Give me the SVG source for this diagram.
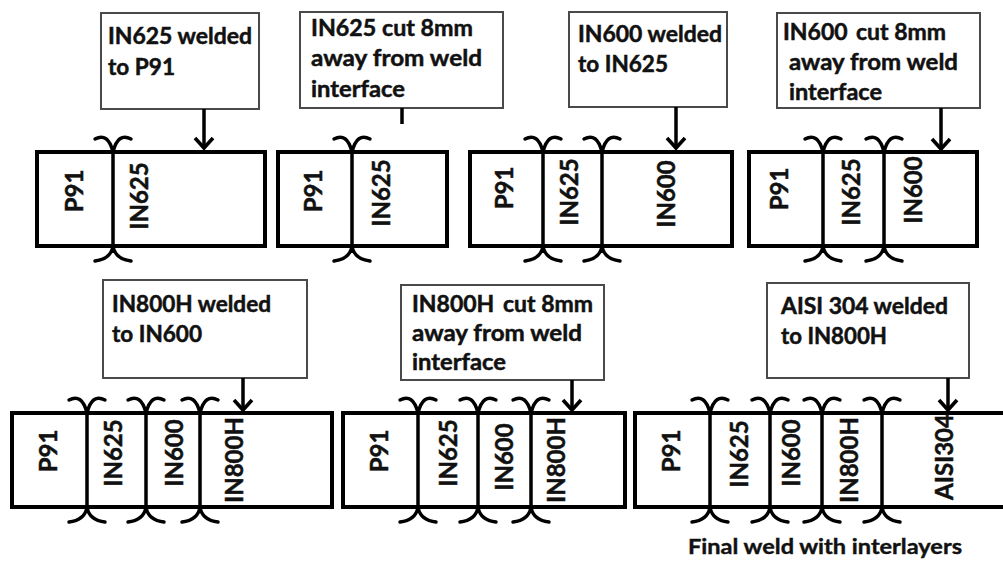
<svg xmlns="http://www.w3.org/2000/svg" xmlns:xlink="http://www.w3.org/1999/xlink" width="1003" height="563" viewBox="0 0 1003 563">
<style>
.lbl{fill:#fff;stroke:#4a4a4a;stroke-width:2}
.bar{fill:#fff;stroke:#000;stroke-width:4}
.div{stroke:#000;stroke-width:3.5}
.weld{fill:none;stroke:#000;stroke-width:3.4;stroke-linecap:round}
.t{font-family:Lato,"Liberation Sans",sans-serif;font-weight:bold;font-size:23px;fill:#111;stroke:#111;stroke-width:0.5}
.v{font-family:Lato,"Liberation Sans",sans-serif;font-weight:bold;font-size:24px;fill:#111;stroke:#111;stroke-width:0.5;text-anchor:middle}
.cap{font-family:Lato,"Liberation Sans",sans-serif;font-weight:bold;font-size:21px;fill:#111;stroke:#111;stroke-width:0.4}
.arr{stroke:#000;stroke-width:3.5;fill:none}
</style>
<defs>
<marker id="ah" markerUnits="userSpaceOnUse" markerWidth="24" markerHeight="24" viewBox="-12 -12 24 24" refX="0" refY="0" orient="auto" overflow="visible">
<path d="M-10,-9 L0,0 L-10,9" fill="none" stroke="#000" stroke-width="3.6"/>
</marker>
<path id="wt" class="weld" d="M-18,-13 Q-5,-20 0,0 M18,-13 Q5,-20 0,0"/>
<path id="wb" class="weld" d="M0,0 Q-2,13 -18,15 M0,0 Q2,13 18,15"/>
</defs>
<rect width="1003" height="563" fill="#fff"/>

<g id="label1">
<rect class="lbl" x="101" y="13" width="158" height="96"/>
<text class="t" x="108" y="44" textLength="144" lengthAdjust="spacingAndGlyphs">IN625 welded</text>
<text class="t" x="108" y="75" textLength="67" lengthAdjust="spacingAndGlyphs">to P91</text>
</g>
<g id="label2">
<rect class="lbl" x="300" y="12" width="203" height="96"/>
<text class="t" x="311" y="36" textLength="162" lengthAdjust="spacingAndGlyphs">IN625 cut 8mm</text>
<text class="t" x="311" y="66" textLength="171" lengthAdjust="spacingAndGlyphs">away from weld</text>
<text class="t" x="311" y="97" textLength="94" lengthAdjust="spacingAndGlyphs">interface</text>
</g>
<g id="label3">
<rect class="lbl" x="569" y="12" width="158" height="95"/>
<text class="t" x="578" y="42" textLength="144" lengthAdjust="spacingAndGlyphs">IN600 welded</text>
<text class="t" x="578" y="72" textLength="90" lengthAdjust="spacingAndGlyphs">to IN625</text>
</g>
<g id="label4">
<rect class="lbl" x="777" y="13" width="203" height="95"/>
<text class="t" y="40"><tspan x="783">IN600</tspan> <tspan x="856">cut 8mm</tspan></text>
<text class="t" x="789" y="70" textLength="169" lengthAdjust="spacingAndGlyphs">away from weld</text>
<text class="t" x="789" y="100" textLength="93" lengthAdjust="spacingAndGlyphs">interface</text>
</g>
<g id="label5">
<rect class="lbl" x="103" y="280" width="204" height="98"/>
<text class="t" x="112" y="312" textLength="159" lengthAdjust="spacingAndGlyphs">IN800H welded</text>
<text class="t" x="112" y="342" textLength="90" lengthAdjust="spacingAndGlyphs">to IN600</text>
</g>
<g id="label6">
<rect class="lbl" x="401" y="285" width="203" height="95"/>
<text class="t" y="312"><tspan x="412">IN800H</tspan> <tspan x="503">cut 8mm</tspan></text>
<text class="t" x="412" y="341" textLength="170" lengthAdjust="spacingAndGlyphs">away from weld</text>
<text class="t" x="412" y="370" textLength="94" lengthAdjust="spacingAndGlyphs">interface</text>
</g>
<g id="label7">
<rect class="lbl" x="767" y="283" width="202" height="95"/>
<text class="t" x="781" y="314" textLength="167" lengthAdjust="spacingAndGlyphs">AISI 304 welded</text>
<text class="t" x="781" y="344" textLength="106" lengthAdjust="spacingAndGlyphs">to IN800H</text>
</g>

<g id="bar1">
<rect class="bar" x="37" y="152" width="228" height="94"/>
<line class="div" x1="113" y1="152" x2="113" y2="246"/>
<use xlink:href="#wt" x="113" y="152"/><use xlink:href="#wb" x="113" y="246"/>
<text class="v" transform="translate(83,191) rotate(-90)">P91</text>
<text class="v" transform="translate(148,196) rotate(-90)">IN625</text>
</g>
<g id="bar2">
<rect class="bar" x="278" y="152" width="169" height="94"/>
<line class="div" x1="352" y1="152" x2="352" y2="246"/>
<use xlink:href="#wt" x="352" y="152"/><use xlink:href="#wb" x="352" y="246"/>
<text class="v" transform="translate(322,191) rotate(-90)">P91</text>
<text class="v" transform="translate(390,193) rotate(-90)">IN625</text>
</g>
<g id="bar3">
<rect class="bar" x="470" y="152" width="262" height="94"/>
<line class="div" x1="543" y1="152" x2="543" y2="246"/>
<line class="div" x1="602" y1="152" x2="602" y2="246"/>
<use xlink:href="#wt" x="543" y="152"/><use xlink:href="#wb" x="543" y="246"/>
<use xlink:href="#wt" x="602" y="152"/><use xlink:href="#wb" x="602" y="246"/>
<text class="v" transform="translate(513,188) rotate(-90)">P91</text>
<text class="v" transform="translate(578,192) rotate(-90)">IN625</text>
<text class="v" transform="translate(675,194) rotate(-90)">IN600</text>
</g>
<g id="bar4">
<rect class="bar" x="749" y="152" width="228" height="94"/>
<line class="div" x1="823" y1="152" x2="823" y2="246"/>
<line class="div" x1="884" y1="152" x2="884" y2="246"/>
<use xlink:href="#wt" x="823" y="152"/><use xlink:href="#wb" x="823" y="246"/>
<use xlink:href="#wt" x="884" y="152"/><use xlink:href="#wb" x="884" y="246"/>
<text class="v" transform="translate(788,189) rotate(-90)">P91</text>
<text class="v" transform="translate(860,192) rotate(-90)">IN625</text>
<text class="v" transform="translate(922,190) rotate(-90)">IN600</text>
</g>
<g id="bar5">
<rect class="bar" x="12" y="413" width="320" height="94"/>
<line class="div" x1="87" y1="413" x2="87" y2="507"/>
<line class="div" x1="146" y1="413" x2="146" y2="507"/>
<line class="div" x1="200" y1="413" x2="200" y2="507"/>
<use xlink:href="#wt" x="87" y="413"/><use xlink:href="#wb" x="87" y="507"/>
<use xlink:href="#wt" x="146" y="413"/><use xlink:href="#wb" x="146" y="507"/>
<use xlink:href="#wt" x="200" y="413"/><use xlink:href="#wb" x="200" y="507"/>
<text class="v" transform="translate(57,451) rotate(-90)">P91</text>
<text class="v" transform="translate(122,453) rotate(-90)">IN625</text>
<text class="v" transform="translate(183,453) rotate(-90)">IN600</text>
<text class="v" transform="translate(243,460) rotate(-90)">IN800H</text>
</g>
<g id="bar6">
<rect class="bar" x="343" y="413" width="282" height="94"/>
<line class="div" x1="418" y1="413" x2="418" y2="507"/>
<line class="div" x1="478" y1="413" x2="478" y2="507"/>
<line class="div" x1="531" y1="413" x2="531" y2="507"/>
<use xlink:href="#wt" x="418" y="413"/><use xlink:href="#wb" x="418" y="507"/>
<use xlink:href="#wt" x="478" y="413"/><use xlink:href="#wb" x="478" y="507"/>
<use xlink:href="#wt" x="531" y="413"/><use xlink:href="#wb" x="531" y="507"/>
<text class="v" transform="translate(388,451) rotate(-90)">P91</text>
<text class="v" transform="translate(457,453) rotate(-90)">IN625</text>
<text class="v" transform="translate(513,457) rotate(-90)">IN600</text>
<text class="v" transform="translate(565,460) rotate(-90)">IN800H</text>
</g>
<g id="bar7">
<rect class="bar" x="635" y="413" width="380" height="94"/>
<line class="div" x1="710" y1="413" x2="710" y2="507"/>
<line class="div" x1="770" y1="413" x2="770" y2="507"/>
<line class="div" x1="822" y1="413" x2="822" y2="507"/>
<line class="div" x1="882" y1="413" x2="882" y2="507"/>
<use xlink:href="#wt" x="710" y="413"/><use xlink:href="#wb" x="710" y="507"/>
<use xlink:href="#wt" x="770" y="413"/><use xlink:href="#wb" x="770" y="507"/>
<use xlink:href="#wt" x="822" y="413"/><use xlink:href="#wb" x="822" y="507"/>
<use xlink:href="#wt" x="882" y="413"/><use xlink:href="#wb" x="882" y="507"/>
<text class="v" transform="translate(680,451) rotate(-90)">P91</text>
<text class="v" transform="translate(748,454) rotate(-90)">IN625</text>
<text class="v" transform="translate(800,453) rotate(-90)">IN600</text>
<text class="v" transform="translate(858,460) rotate(-90)">IN800H</text>
<text class="v" transform="translate(953,457) rotate(-90)">AISI304</text>
</g>
<g id="caption">
<text class="cap" x="688" y="554" textLength="274" lengthAdjust="spacingAndGlyphs">Final weld with interlayers</text>
</g>

<g id="connectors">
<line class="arr" x1="204" y1="109" x2="204" y2="148" marker-end="url(#ah)"/>
<line class="arr" x1="402" y1="108" x2="402" y2="124"/>
<line class="arr" x1="676" y1="107" x2="676" y2="148" marker-end="url(#ah)"/>
<line class="arr" x1="941" y1="108" x2="941" y2="149" marker-end="url(#ah)"/>
<line class="arr" x1="243" y1="378" x2="243" y2="410" marker-end="url(#ah)"/>
<line class="arr" x1="572" y1="380" x2="572" y2="410" marker-end="url(#ah)"/>
<line class="arr" x1="948" y1="378" x2="948" y2="410" marker-end="url(#ah)"/>
</g>
</svg>
